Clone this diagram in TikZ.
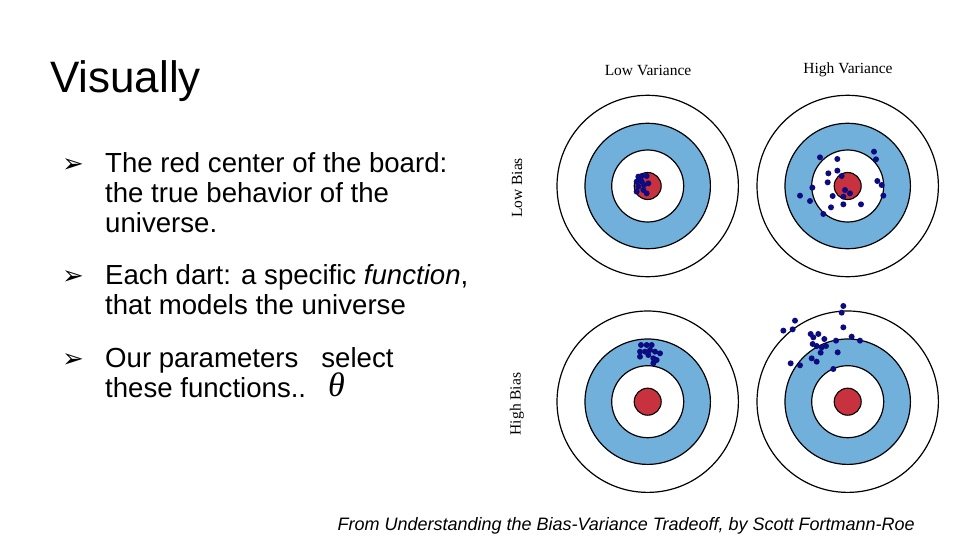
\documentclass[tikz,border=0pt]{standalone}
\usepackage{fontspec}
\setmainfont{Liberation Sans}
\newfontfamily\serifr{Liberation Serif}
\newfontfamily\djsym{DejaVu Sans}
\definecolor{tblue}{HTML}{72B0DC}
\definecolor{tred}{HTML}{C8323F}
\definecolor{dart}{HTML}{0C0C80}
\begin{document}
\begin{tikzpicture}[x=1pt,y=-1pt,
  txt/.style={anchor=base west,inner sep=0pt,font=\fontsize{27.6}{27.6}\selectfont},
  bul/.style={anchor=base west,inner sep=0pt,font=\djsym\fontsize{26}{26}\selectfont},
  lab/.style={inner sep=0pt,font=\serifr\fontsize{15.5}{15.5}\selectfont}]
\useasboundingbox (0,0) rectangle (960,540);
\node[anchor=base west,inner sep=0pt,font=\fontsize{44}{44}\selectfont] (title) at (50,93) {Visually};
\node[bul] (b1) at (62,172) {➢};
\node[txt] (t1) at (105,172) {The red center of the board:};
\node[txt] (t2) at (105,202) {the true behavior of the};
\node[txt] (t3) at (105,232) {universe.};
\node[bul] (b2) at (62,284) {➢};
\node[txt] (t4) at (105,284) {Each dart: a specific \textit{function},};
\node[txt] (t5) at (105,314) {that models the universe};
\node[bul] (b3) at (62,367) {➢};
\node[txt] (t6) at (105,367) {Our parameters \ \ select};
\node[txt] (t7) at (105,397) {these functions..};
\node[anchor=base west,inner sep=0pt,font=\serifr\itshape\fontsize{34}{34}\selectfont] (th) at (328,396) {θ};
\node[anchor=base east,inner sep=0pt,font=\itshape\fontsize{18}{18}\selectfont] (src) at (915,530) {From Understanding the Bias-Variance Tradeoff, by Scott Fortmann-Roe};
\node[lab] (lv) at (648,70) {Low Variance};
\node[lab] (hv) at (848,70) {High Variance};
\node[lab,rotate=90] (lb) at (517,188) {Low Bias};
\node[lab,rotate=90] (hb) at (517,404) {High Bias};
\foreach \cx/\cy in {647.7/186,847.7/186,647.7/401.7,847.7/401.7}{
  \draw[line width=1.2pt,fill=white] (\cx,\cy) circle[radius=90.7pt];
  \draw[line width=1.2pt,fill=tblue] (\cx,\cy) circle[radius=62.7pt];
  \draw[line width=1.2pt,fill=white] (\cx,\cy) circle[radius=36pt];
  \draw[line width=1.1pt,fill=tred] (\cx,\cy) circle[radius=13.5pt];
}
\begin{scope}[xshift=500pt,yshift=-50pt,x=0.33333pt,y=-0.33333pt]
\foreach \p in {(415,380),(425,378),(440,378),(410,395),(425,395),(445,400),(415,410),(430,420),(440,430),(410,425),(420,388),(432,405),
 (960,322),(1012,327),(1122,305),(1128,328),(985,370),(1012,362),(1025,378),(983,397),(937,413),(900,437),(930,453),(998,438),(1030,440),(1035,420),(1050,430),(1030,463),(993,472),(970,492),(1083,463),(1132,393),(1145,405),(1150,437),
 (423,885),(440,885),(455,885),(420,905),(435,905),(450,900),(465,905),(480,910),(420,920),(445,915),(460,925),(470,930),(460,940),
 (1030,768),(1025,788),(885,812),(878,838),(850,842),(1030,832),(932,852),(955,852),(940,862),(973,867),(1008,872),(1055,860),(1080,872),(938,882),(950,888),(965,892),(978,888),(962,908),(1013,907),(935,925),(950,935),(872,940),(900,946),(1000,957)}
  \fill[dart] \p circle[radius=3pt];
\end{scope}
\end{tikzpicture}
\end{document}
